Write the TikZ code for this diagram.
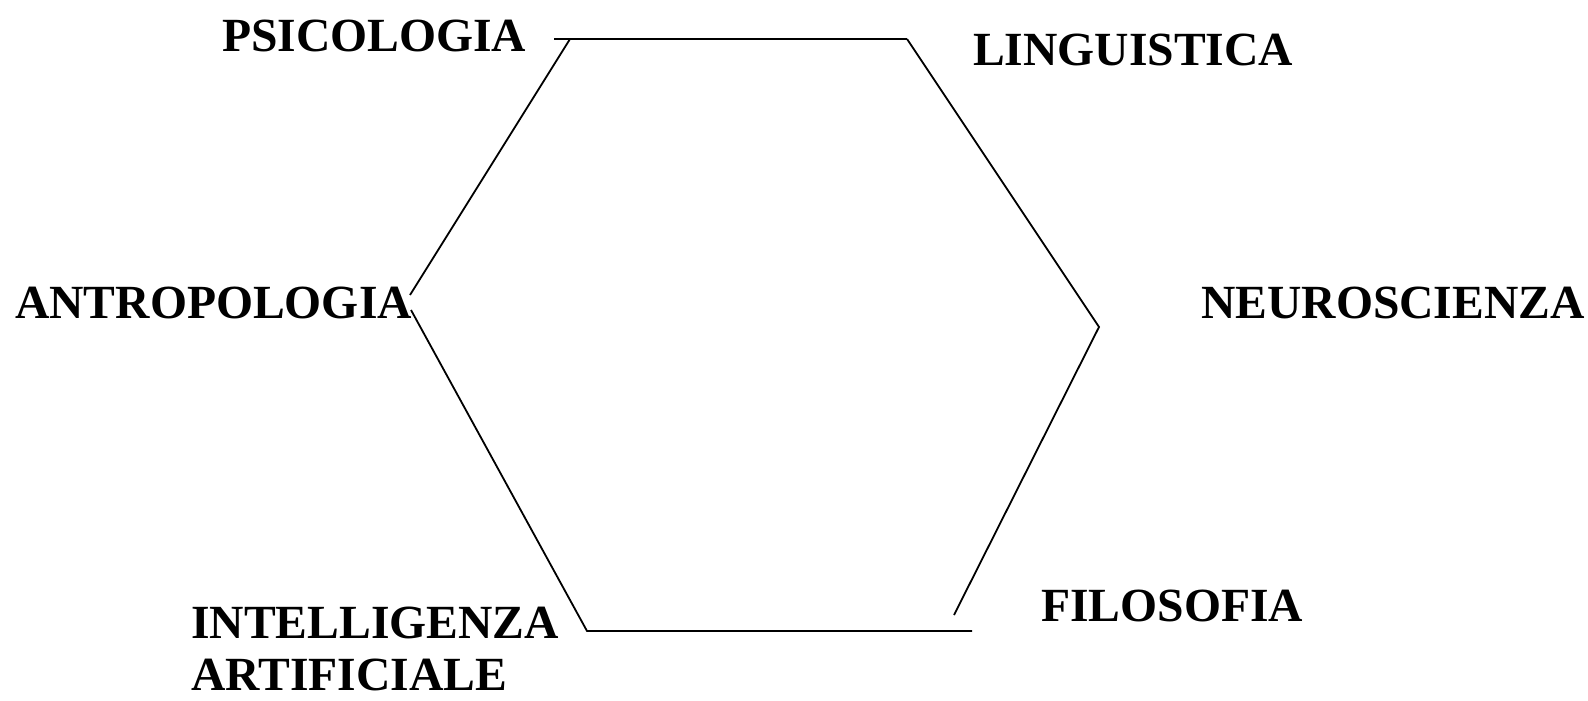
\documentclass[tikz,border=0pt]{standalone}
\usepackage{fontspec}
\setmainfont{Liberation Serif}
\usetikzlibrary{positioning}

\begin{document}
\begin{tikzpicture}[
    x=1pt, y=-1pt,
    field/.style={anchor=base west, inner sep=0pt, font=\fontsize{47.6}{52}\selectfont\bfseries, align=left},
    edge/.style={line width=1.8pt}
]
\useasboundingbox (0,0) rectangle (1588,701);

% corners of the hexagon
\coordinate (tl) at (554,39);
\coordinate (tlb) at (570,39);
\coordinate (tr) at (907,39);
\coordinate (l1) at (410,295);
\coordinate (l2) at (411,310);
\coordinate (r) at (1099,327);
\coordinate (br1) at (954,615);
\coordinate (bl) at (587,631);
\coordinate (br) at (972,631);

\draw[edge] (tl) -- (tr);
\draw[edge] (tlb) -- (l1);
\draw[edge] (tr) -- (r) -- (br1);
\draw[edge] (l2) -- (bl) -- (br);

% disciplines
\node[field] (psico) at (222,52) {PSICOLOGIA};
\node[field] (ling) at (973,66) {LINGUISTICA};
\node[field] (antro) at (15,318) {ANTROPOLOGIA};
\node[field] (neuro) at (1201,318) {NEUROSCIENZA};
\node[field] (filo) at (1041,621) {FILOSOFIA};
\node[field] (ia) at (191,690) {INTELLIGENZA\\ARTIFICIALE};

\end{tikzpicture}
\end{document}
